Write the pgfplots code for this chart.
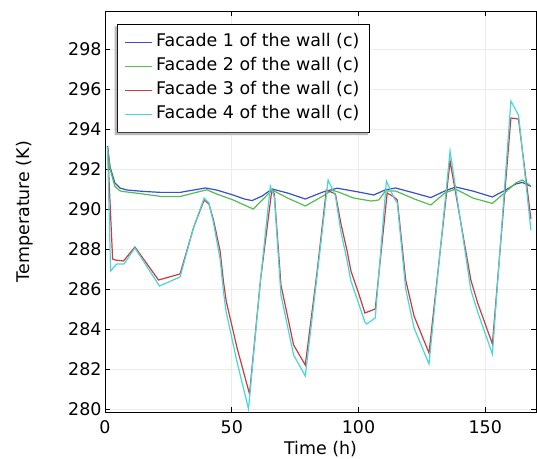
\documentclass[border=0pt]{standalone}
\usepackage{fontspec}
\setmainfont{DejaVu Sans}
\usepackage{pgfplots}
\pgfplotsset{compat=1.18}
\definecolor{cblue}{RGB}{55,80,205}
\definecolor{cgreen}{RGB}{80,190,80}
\definecolor{cred}{RGB}{205,60,60}
\definecolor{ccyan}{RGB}{70,215,220}
\newcommand\fs{\fontsize{17.5}{21}\selectfont}
\begin{document}
\begin{tikzpicture}
\begin{axis}[
  scale only axis, width=431bp, height=401bp,
  xmin=0, xmax=170, ymin=279.85, ymax=299.9,
  xtick={0,50,100,150}, ytick={280,282,...,298},
  tick align=inside, major tick length=5bp,
  grid=major, major grid style={gray!15, line width=0.9bp},
  axis line style={line width=0.9bp},
  tick style={black, line width=0.7bp},
  /pgf/number format/assume math mode=true,
  tick label style={font=\fs},
  xticklabel style={yshift=-5.5bp},
  xlabel={Time (h)}, ylabel={Temperature (K)},
  every axis x label/.style={at={(axis description cs:0.5,0)}, anchor=center, yshift=-37bp, font=\fs},
  every axis y label/.style={at={(axis description cs:0,0.5)}, xshift=-80bp, rotate=90, anchor=center, font=\fs},
  legend style={name=leg, at={(0.028,0.968)}, anchor=north west, font=\fs, draw=black, line width=0.9bp,
    fill=white, inner xsep=7bp, inner ysep=10bp, row sep=8bp,
    nodes={inner xsep=3.5bp, inner ysep=0bp, text height=12.5bp, text depth=3.5bp}},
  legend cell align=left,
  legend image code/.code={\draw[#1, line width=1.2bp] (0bp,0bp) -- (27bp,0bp);},
  every axis plot/.append style={line width=1.2bp},
]
\addplot[cblue] coordinates {(1,293.15)(2,292.1)(3.9,291.3)(5.9,291.05)(8.6,290.95)(15,290.88)(22,290.83)(29.6,290.83)(35,290.95)(39.6,291.05)(44,290.95)(50,290.72)(55,290.5)(58,290.42)(62,290.65)(65.9,291.0)(72,290.8)(79,290.5)(86,290.85)(91.6,291.04)(100,290.85)(106,290.7)(110.6,290.96)(114.6,291.05)(122,290.8)(128.5,290.57)(134,290.9)(138.3,291.1)(145,290.9)(152.8,290.6)(158,290.95)(162,291.25)(164.6,291.33)(168,291.13)};
\addlegendentry{Facade 1 of the wall (c)}
\addplot[cgreen] coordinates {(1,293.1)(2,292.0)(3.9,291.13)(6,290.9)(8.6,290.85)(15,290.75)(22,290.63)(29.6,290.62)(35,290.8)(40.2,290.96)(44,290.75)(50.6,290.45)(54,290.25)(58.5,290.0)(62,290.45)(65.9,290.95)(72,290.55)(79,290.15)(86,290.65)(89.6,290.95)(92,290.85)(98,290.55)(105,290.4)(108,290.45)(110.6,290.9)(114.6,290.9)(122,290.5)(128.5,290.2)(134,290.8)(138.3,291.0)(145,290.55)(152.8,290.28)(158,290.85)(162,291.3)(164.6,291.45)(168,291.15)};
\addlegendentry{Facade 2 of the wall (c)}
\addplot[cred] coordinates {(1,293.1)(3,287.5)(4,287.45)(7.3,287.4)(11.8,288.1)(21.1,286.45)(29.6,286.75)(35,289.1)(39.1,290.45)(41,290.25)(42.8,289.45)(45.4,287.9)(46.7,286.4)(47.8,285.4)(52,283.1)(57,280.75)(61.3,286.4)(65.8,290.95)(66.8,290.75)(69.4,286.2)(74.4,283.2)(79,282.2)(83.6,286.8)(87.3,290.95)(90.9,290.75)(93,289.3)(95.5,287.9)(97,286.9)(100,285.8)(102.5,284.8)(106.6,285.0)(111.3,290.8)(114,290.6)(115.3,290.45)(118.6,286.45)(121.9,284.65)(127.8,282.8)(136.1,292.4)(144.3,286.45)(147,285.3)(152.8,283.25)(160.1,294.55)(163.1,294.5)(168,289.5)};
\addlegendentry{Facade 3 of the wall (c)}
\addplot[ccyan] coordinates {(1,293.1)(2.2,286.9)(4.6,287.25)(7.5,287.25)(11.8,288.05)(21.5,286.15)(29.6,286.6)(35,289.1)(39.1,290.55)(41,290.3)(42.8,289.3)(45.4,287.5)(46.7,285.9)(47.8,284.85)(52,282.4)(56.6,280.0)(61.3,286.4)(65.2,291.15)(66.8,290.6)(69.4,285.7)(74.4,282.7)(79,281.65)(83.6,286.6)(88,291.45)(90.9,290.65)(93,288.9)(95.5,287.4)(97,286.4)(100,285.3)(102.5,284.35)(103.2,284.25)(106.6,284.55)(111,291.4)(114,290.55)(115.3,290.3)(118.6,286.0)(121.9,284.05)(127.8,282.25)(136.1,292.9)(144.3,285.95)(147,284.85)(152.8,282.75)(160.1,295.4)(163.1,294.7)(168,288.95)};
\addlegendentry{Facade 4 of the wall (c)}
\end{axis}
\fill[gray!55] ([xshift=-2.5bp,yshift=-2.5bp]leg.south west) -- ([xshift=-2.5bp,yshift=-2.5bp]leg.south east) -- ([xshift=-2.5bp]leg.south east) -- (leg.south west) -- ([yshift=-2.5bp]leg.north west) -- ([xshift=-2.5bp,yshift=-2.5bp]leg.north west) -- cycle;
\pgfresetboundingbox
\path[use as bounding box] ([xshift=-105bp,yshift=-47bp]current axis.south west) rectangle ([xshift=1bp,yshift=11bp]current axis.north east);
\end{tikzpicture}
\end{document}
